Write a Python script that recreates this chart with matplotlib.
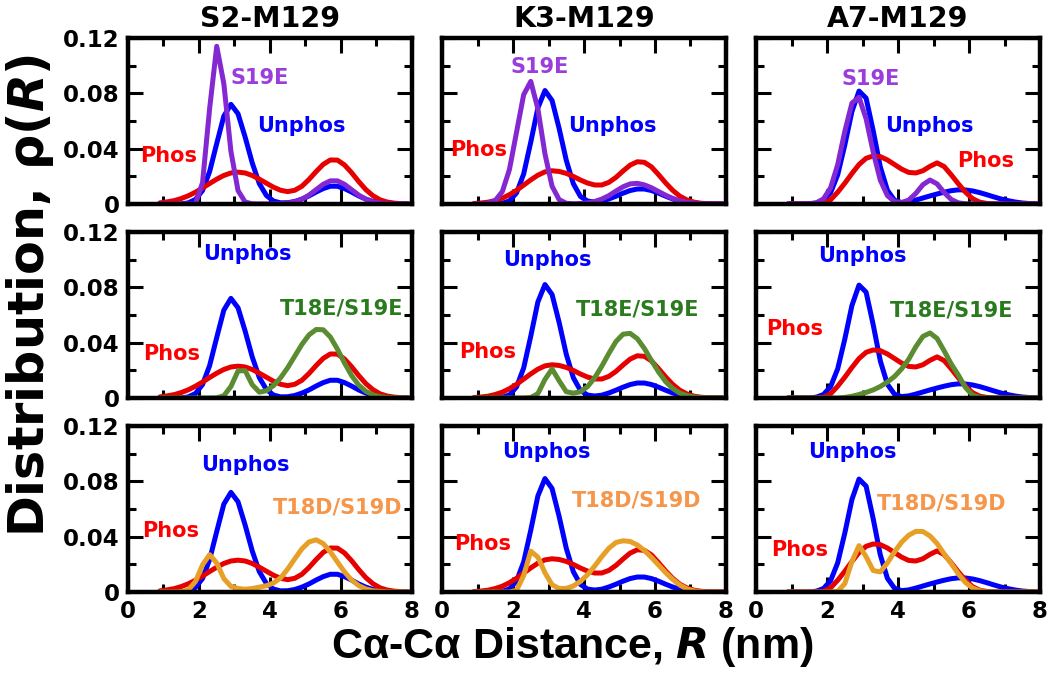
import numpy as np
import matplotlib
matplotlib.use('Agg')
import matplotlib.pyplot as plt
from matplotlib.ticker import MultipleLocator, FuncFormatter

plt.rcParams['font.family'] = 'DejaVu Sans'
plt.rcParams['font.weight'] = 'bold'
plt.rcParams['mathtext.fontset'] = 'custom'
plt.rcParams['mathtext.it'] = 'DejaVu Sans:italic:bold'
plt.rcParams['mathtext.rm'] = 'DejaVu Sans:bold'

# distance grid (nm), 0.9 ... 7.9
R = np.round(np.arange(0.9, 8.0, 0.2), 1)

titles = ['S2-M129', 'K3-M129', 'A7-M129']

# S2-M129
unphos_s2 = [0, 0, 0, 0, 0.0008, 0.0032, 0.0097, 0.0234, 0.0437, 0.0635, 0.072, 0.0652, 0.0484, 0.0297, 0.0147, 0.0061,
             0.0021, 0.0008, 0.0009, 0.0018, 0.0035, 0.0058, 0.0086, 0.0111, 0.0128, 0.0128, 0.0111, 0.0086, 0.0058,
             0.0035, 0.0018, 0.0009, 0.0003, 0.0001, 0, 0]
phos_s2 = [0.0008, 0.0015, 0.0024, 0.0039, 0.0059, 0.0085, 0.0115, 0.0148, 0.0179, 0.0206, 0.0224, 0.023, 0.0224, 0.0206,
           0.0179, 0.015, 0.0121, 0.0099, 0.0089, 0.0099, 0.0128, 0.0177, 0.0234, 0.0286, 0.0318, 0.0317, 0.0282, 0.0226,
           0.0162, 0.0104, 0.006, 0.003, 0.0014, 0.0006, 0.0002, 0]
s19e_s2 = [0, 0, 0, 0, 0, 0, 0.0154, 0.069, 0.114, 0.087, 0.038, 0.0097, 0.0014, 0.0001, 0, 0, 0, 0.0002, 0.0006, 0.0015,
           0.0034, 0.0064, 0.0103, 0.0142, 0.0167, 0.0167, 0.0142, 0.0103, 0.0064, 0.0034, 0.0015, 0.0006, 0.0002, 0, 0, 0]
t18e_s2 = [0, 0, 0, 0, 0, 0, 0, 0, 0.0001, 0.0016, 0.0083, 0.0195, 0.0198, 0.0096, 0.0042, 0.0052, 0.0089, 0.0146, 0.0219,
           0.0303, 0.0387, 0.0456, 0.0495, 0.0493, 0.0441, 0.0353, 0.0253, 0.0162, 0.0093, 0.0048, 0.0022, 0.0009, 0.0003,
           0.0001, 0, 0]
t18d_s2 = [0, 0, 0, 0.0002, 0.0015, 0.0075, 0.0196, 0.027, 0.0209, 0.0097, 0.004, 0.0025, 0.002, 0.0025, 0.0035, 0.0045,
           0.0065, 0.0102, 0.0166, 0.024, 0.0312, 0.0362, 0.0377, 0.035, 0.0291, 0.0217, 0.0145, 0.0086, 0.0046, 0.0022,
           0.0009, 0.0004, 0.0001, 0, 0, 0]

# K3-M129
unphos_k3 = [0, 0, 0, 0, 0.0005, 0.0022, 0.008, 0.0217, 0.0447, 0.0694, 0.082, 0.0748, 0.0545, 0.0316, 0.0146, 0.0054,
             0.0021, 0.0014, 0.002, 0.0036, 0.0056, 0.0078, 0.0097, 0.0108, 0.0108, 0.0097, 0.0078, 0.0056, 0.0036, 0.002,
             0.001, 0.0005, 0.0002, 0.0001, 0, 0]
phos_k3 = [0.0003, 0.0007, 0.0013, 0.0025, 0.0042, 0.0067, 0.0099, 0.0136, 0.0174, 0.0208, 0.0232, 0.024, 0.0235, 0.0221,
           0.0199, 0.0173, 0.0151, 0.0137, 0.0137, 0.0156, 0.0192, 0.0238, 0.0281, 0.0305, 0.0301, 0.0268, 0.0212, 0.0152,
           0.0098, 0.0056, 0.0029, 0.0013, 0.0005, 0.0002, 0, 0]
s19e_k3 = [0, 0, 0.0005, 0.0025, 0.009, 0.025, 0.052, 0.079, 0.0886, 0.0688, 0.0362, 0.0128, 0.0031, 0.0005, 0.0001,
           0.0003, 0.0008, 0.0018, 0.0035, 0.006, 0.0093, 0.0124, 0.0145, 0.0149, 0.0138, 0.0117, 0.009, 0.0063, 0.004,
           0.0023, 0.0012, 0.0006, 0.0002, 0, 0, 0]
t18e_k3 = [0, 0, 0, 0, 0, 0, 0, 0, 0.0003, 0.0031, 0.0134, 0.021, 0.0124, 0.0045, 0.0035, 0.0045, 0.0082, 0.0146, 0.0229,
           0.0322, 0.0408, 0.0461, 0.0467, 0.0429, 0.0358, 0.0271, 0.0188, 0.0118, 0.0068, 0.0035, 0.0017, 0.0007, 0.0003,
           0.0001, 0, 0]
t18d_k3 = [0, 0, 0, 0, 0, 0, 0.0012, 0.0119, 0.0295, 0.0252, 0.0139, 0.0052, 0.0025, 0.0026, 0.0043, 0.0077, 0.0125,
           0.0187, 0.0255, 0.0316, 0.0358, 0.037, 0.0365, 0.034, 0.03, 0.025, 0.0195, 0.014, 0.009, 0.005, 0.0022, 0.0008,
           0.0002, 0, 0, 0]

# A7-M129
unphos_a7 = [0, 0, 0, 0, 0.0006, 0.0025, 0.0082, 0.0211, 0.0426, 0.0668, 0.0816, 0.0765, 0.0529, 0.0268, 0.0099, 0.0027,
             0.001, 0.0015, 0.0028, 0.0043, 0.0058, 0.0072, 0.0085, 0.0096, 0.0102, 0.0101, 0.0094, 0.0082, 0.0067,
             0.0051, 0.0036, 0.0024, 0.0014, 0.0007, 0.0003, 0.0001]
phos_a7 = [0, 0, 0, 0, 0, 0.0005, 0.003, 0.0085, 0.015, 0.022, 0.0285, 0.033, 0.0347, 0.0342, 0.0318, 0.0285, 0.0252,
           0.0228, 0.0224, 0.024, 0.0272, 0.0297, 0.027, 0.021, 0.0145, 0.0085, 0.0038, 0.0013, 0.0004, 0.0001, 0, 0, 0,
           0, 0, 0]
s19e_a7 = [0, 0, 0, 0.0002, 0.0009, 0.0037, 0.0117, 0.0285, 0.0525, 0.0729, 0.0771, 0.0616, 0.0375, 0.0172, 0.006, 0.0017,
           0.001, 0.0028, 0.0076, 0.0139, 0.0173, 0.0145, 0.0082, 0.0032, 0.0008, 0.0001, 0, 0, 0, 0, 0, 0, 0, 0, 0, 0]
t18e_a7 = [0, 0, 0, 0, 0, 0, 0, 0, 0.0004, 0.0012, 0.0025, 0.004, 0.0058, 0.0083, 0.0115, 0.0155, 0.021, 0.028, 0.037,
           0.0445, 0.047, 0.043, 0.034, 0.0245, 0.0165, 0.0075, 0.002, 0.0004, 0, 0, 0, 0, 0, 0, 0, 0]
t18d_a7 = [0, 0, 0, 0, 0, 0, 0, 0.0005, 0.006, 0.022, 0.0335, 0.0255, 0.0155, 0.0145, 0.021, 0.029, 0.036, 0.041, 0.0438,
           0.0437, 0.0405, 0.035, 0.0275, 0.0205, 0.013, 0.0068, 0.0028, 0.0009, 0.0002, 0, 0, 0, 0, 0, 0, 0]

unphos = [unphos_s2, unphos_k3, unphos_a7]
phos = [phos_s2, phos_k3, phos_a7]
mutants = [('S19E', [s19e_s2, s19e_k3, s19e_a7]),
           ('T18E/S19E', [t18e_s2, t18e_k3, t18e_a7]),
           ('T18D/S19D', [t18d_s2, t18d_k3, t18d_a7])]

BLUE = '#0000ff'
RED = '#e60000'
line_cols = ['#8428d2', '#5c8c32', '#e6a028']
text_cols = ['#9b3cdc', '#2a7a1e', '#f5964a']

# label spots (data coords) per row/col: (unphos, phos, mutant)
spots = [
    [[(4.89, 0.056), (1.15, 0.035), (3.72, 0.091)],
     [(4.79, 0.056), (1.02, 0.039), (2.74, 0.099)],
     [(4.87, 0.056), (6.47, 0.031), (3.22, 0.090)]],
    [[(3.36, 0.104), (1.24, 0.032), (6.03, 0.065)],
     [(2.98, 0.100), (1.28, 0.033), (5.52, 0.064)],
     [(3.00, 0.103), (1.10, 0.050), (5.52, 0.063)]],
    [[(3.31, 0.092), (1.21, 0.044), (5.90, 0.061)],
     [(2.93, 0.101), (1.14, 0.035), (5.47, 0.066)],
     [(2.70, 0.101), (1.24, 0.030), (5.24, 0.064)]],
]

fig, axes = plt.subplots(3, 3, figsize=(10.5, 6.77), dpi=100)
plt.subplots_adjust(left=0.1219, right=0.9905, top=0.9439, bottom=0.1256, wspace=0.106, hspace=0.169)

for r in range(3):
    name, rows = mutants[r]
    for c in range(3):
        ax = axes[r, c]
        ax.plot(R, unphos[c], color=BLUE, lw=3.6, solid_capstyle='round', solid_joinstyle='round')
        ax.plot(R, phos[c], color=RED, lw=3.6, solid_capstyle='round', solid_joinstyle='round')
        ax.plot(R, rows[c], color=line_cols[r], lw=3.6, solid_capstyle='round', solid_joinstyle='round')

        (ux, uy), (px, py), (mx, my) = spots[r][c]
        ax.text(ux, uy, 'Unphos', color=BLUE, fontsize=15, fontweight='bold', ha='center', va='center')
        ax.text(px, py, 'Phos', color='#ff0000', fontsize=15, fontweight='bold', ha='center', va='center')
        ax.text(mx, my, name, color=text_cols[r], fontsize=15, fontweight='bold', ha='center', va='center')

        ax.set_xlim(0, 8)
        ax.set_ylim(0, 0.12)
        ax.xaxis.set_major_locator(MultipleLocator(2))
        ax.xaxis.set_minor_locator(MultipleLocator(1))
        ax.yaxis.set_major_locator(MultipleLocator(0.04))
        ax.yaxis.set_minor_locator(MultipleLocator(0.02))
        ax.tick_params(which='both', direction='in', top=True, right=True, width=2.2, labelsize=16.5, pad=6)
        ax.tick_params(which='major', length=10.5)
        ax.tick_params(which='minor', length=5.5)
        ax.yaxis.set_major_formatter(FuncFormatter(lambda v, _: '0' if abs(v) < 1e-9 else '%.2f' % v))
        ax.xaxis.set_major_formatter(FuncFormatter(lambda v, _: '%d' % round(v)))
        for s in ax.spines.values():
            s.set_linewidth(3.2)
        if c > 0:
            ax.tick_params(labelleft=False)
        if r < 2:
            ax.tick_params(labelbottom=False)
        if r == 0:
            ax.set_title(titles[c], fontsize=20.5, fontweight='bold', pad=8)

fig.text(0.029, 0.563, 'Distribution, ρ($\\mathit{R}$)', rotation=90, fontsize=35.5, fontweight='bold',
         ha='center', va='center')
fig.text(0.545, 0.045, 'Cα-Cα Distance, $\\mathit{R}$ (nm)', family='Liberation Sans', fontsize=31,
         fontweight='bold', ha='center', va='center')

fig.savefig('out.png', dpi=100)
